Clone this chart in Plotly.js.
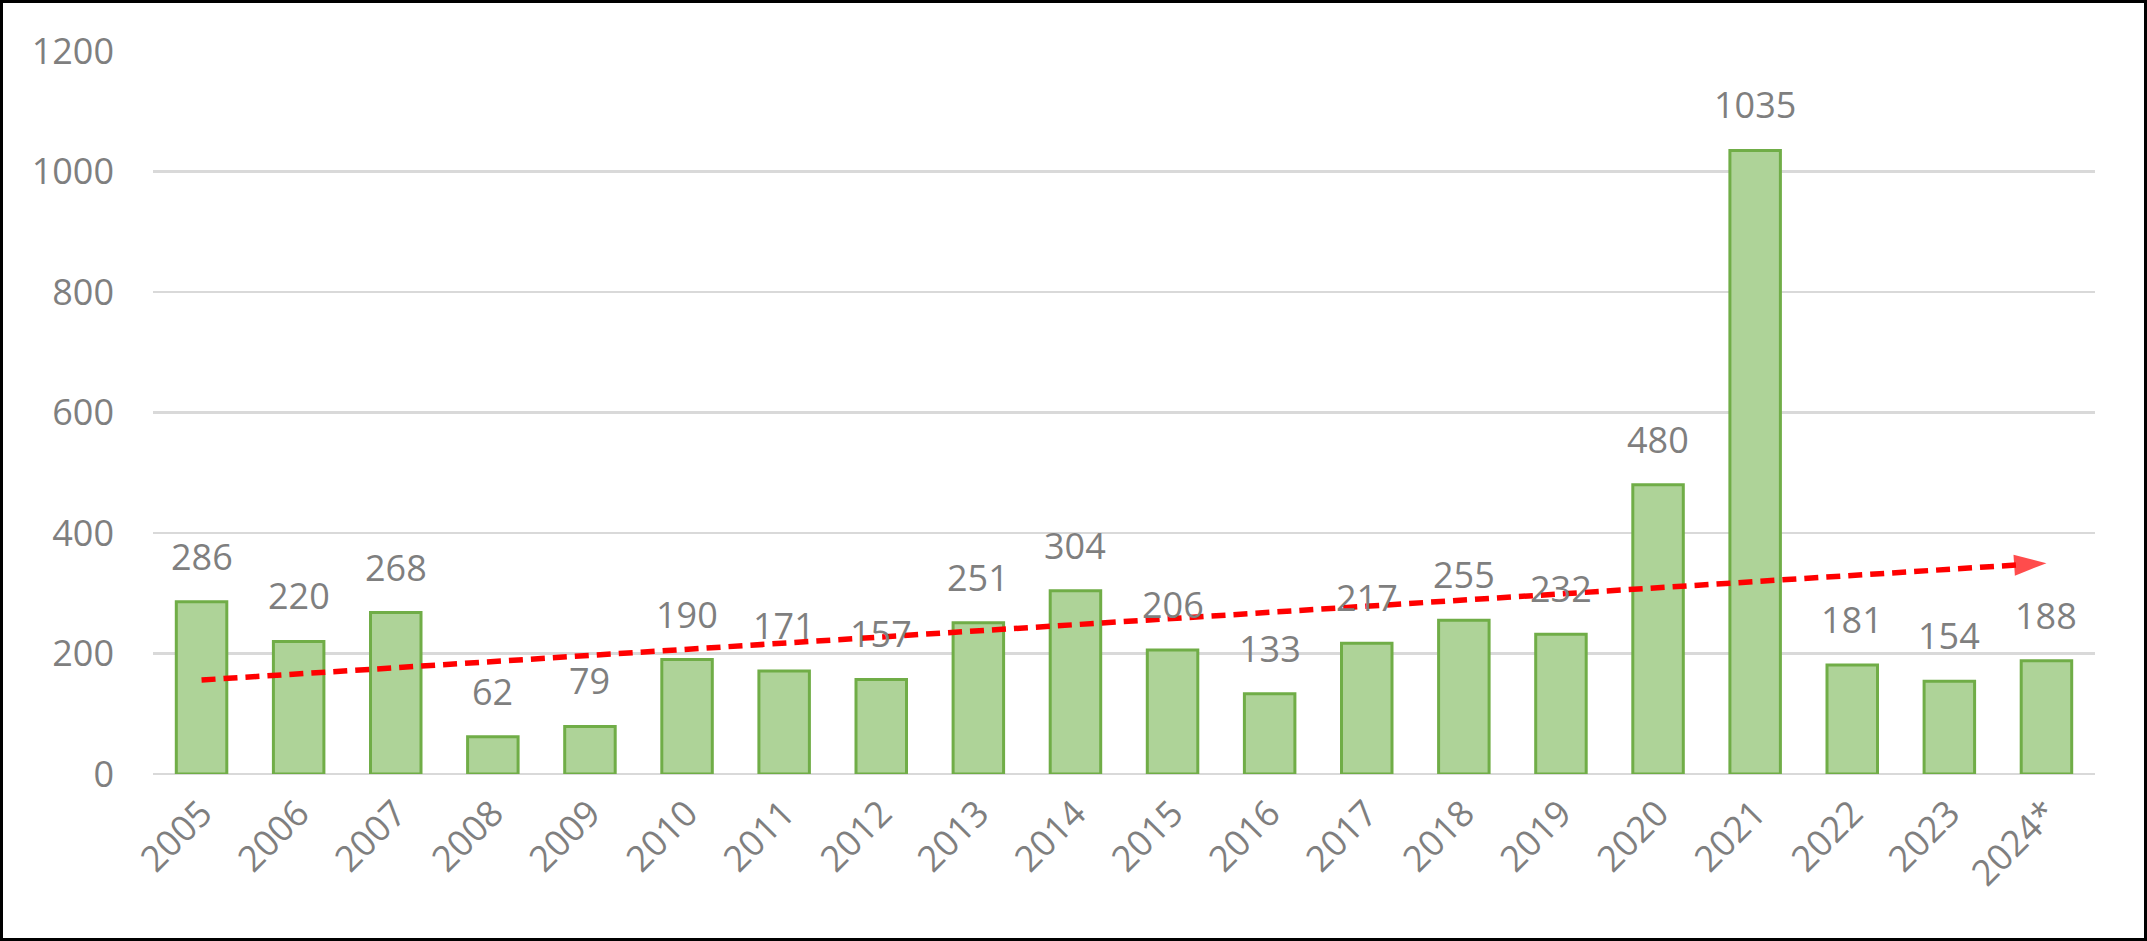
<!DOCTYPE html>
<html>
<head>
<meta charset="utf-8">
<script src="https://cdn.plot.ly/plotly-3.0.1.min.js"></script>
<style>
  html, body {margin: 0; padding: 0; background: #fff;}
  #frame {width: 2147px; height: 941px; box-sizing: border-box; border: 3px solid #000; background: #fff;}
</style>
</head>
<body>
<div id="frame"><div id="graph"></div></div>
<script>
//chart data
const years = ['2005', '2006', '2007', '2008', '2009', '2010', '2011', '2012', '2013', '2014',
  '2015', '2016', '2017', '2018', '2019', '2020', '2021', '2022', '2023', '2024*']
const counts = [286, 220, 268, 62, 79, 190, 171, 157, 251, 304,
  206, 133, 217, 255, 232, 480, 1035, 181, 154, 188]
//ends of the red trend arrow
const trendYears = ['2005', '2024*']
const trendValues = [156, 350]
const yTicks = [0, 200, 400, 600, 800, 1000, 1200]

const grey = '#7f7f7f'
const font = {family: '"Open Sans", "Liberation Sans", sans-serif', size: 36, color: grey}

//bars
const bars = {
  x: years,
  y: counts,
  type: 'bar',
  marker: {
    color: '#aed398',
    line: {color: '#70ad47', width: 3}
  },
  hoverinfo: 'skip'
}

//dashed trend line with arrow head at the end
const trend = {
  x: trendYears,
  y: trendValues,
  type: 'scatter',
  mode: 'lines+markers',
  line: {color: '#ff0000', width: 5.5, dash: '14px,8px'},
  marker: {
    symbol: ['circle', 'arrow'],
    size: [0, 34],
    angleref: 'previous',
    color: '#ff0000',
    line: {width: 0}
  },
  hoverinfo: 'skip'
}

//value labels above the bars (category axis wants the index here)
const labels = counts.map((v, i) => ({
  x: i,
  y: v,
  text: String(v),
  showarrow: false,
  yanchor: 'bottom',
  yshift: 19,
  font: font
}))

const layout = {
  width: 2141,
  height: 935,
  margin: {l: 150, r: 49, t: 48, b: 164, pad: 0},
  paper_bgcolor: '#fff',
  plot_bgcolor: '#fff',
  showlegend: false,
  bargap: 0.48,
  font: font,
  annotations: labels,
  xaxis: {
    type: 'category',
    range: [-0.5, years.length - 0.5],
    tickangle: -45,
    tickfont: font,
    showgrid: false,
    showline: false,
    zeroline: false,
    ticks: '',
    ticklabelstandoff: 10
  },
  yaxis: {
    range: [0, 1200],
    tickvals: yTicks,
    tickfont: font,
    showgrid: true,
    gridcolor: '#d9d9d9',
    gridwidth: 2.5,
    zeroline: true,
    zerolinecolor: '#d9d9d9',
    zerolinewidth: 2.5,
    showline: false,
    ticks: '',
    ticklabelstandoff: 38
  }
}

Plotly.newPlot('graph', [bars, trend], layout, {displayModeBar: false, staticPlot: true})
</script>
</body>
</html>
